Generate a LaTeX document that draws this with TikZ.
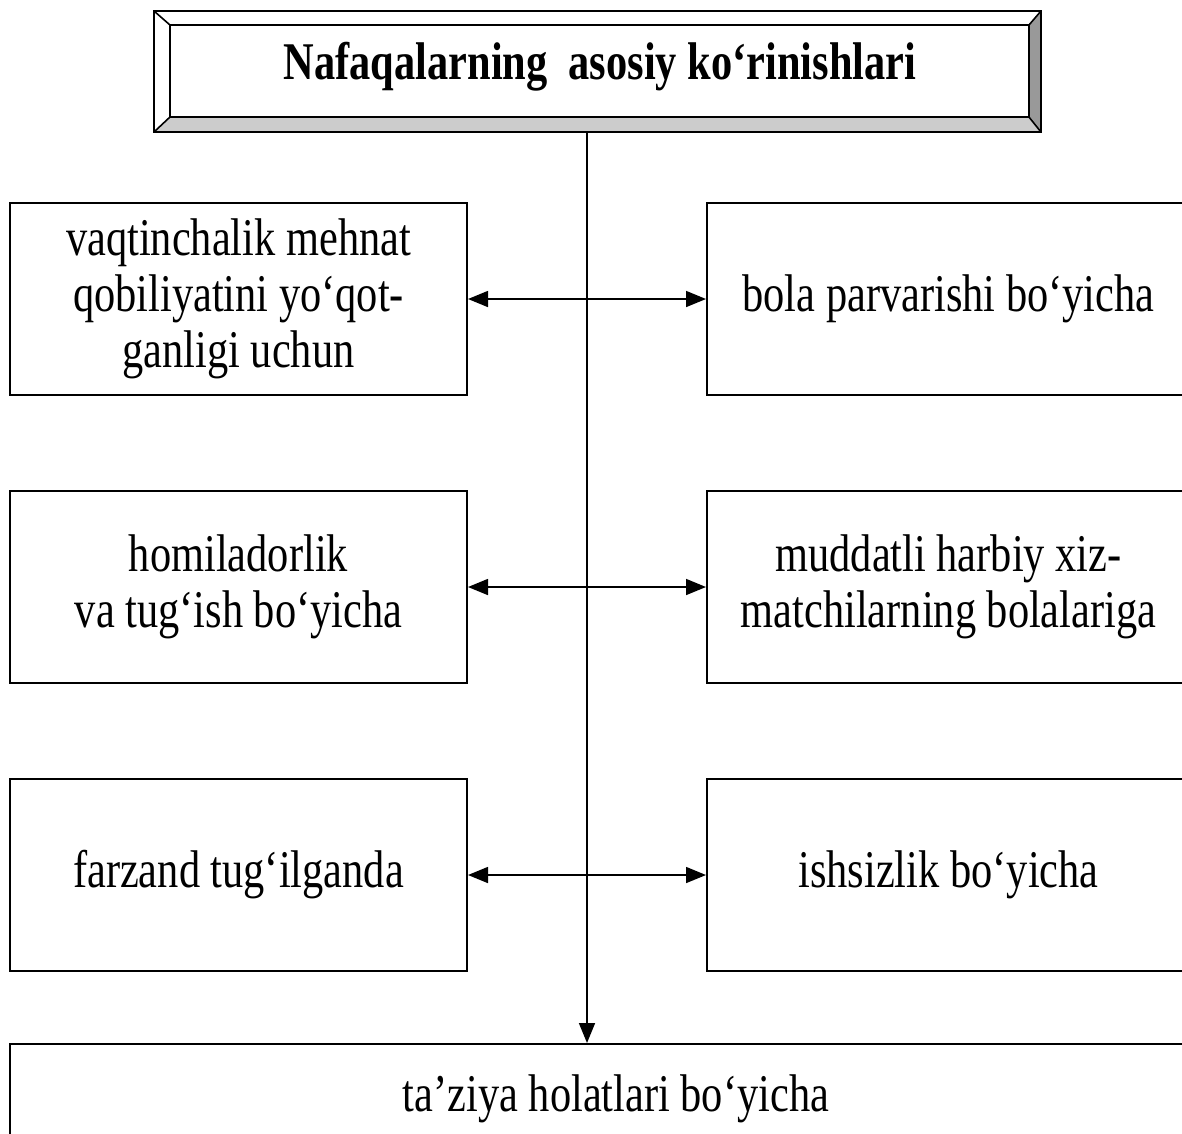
\documentclass[tikz,border=0pt]{standalone}
\usepackage{fontspec}
\setmainfont[FakeStretch=0.8]{Liberation Serif}
\usetikzlibrary{arrows.meta}
\definecolor{bevlight}{HTML}{CCCCCC}
\definecolor{bevdark}{HTML}{999999}
\tikzset{
  box/.style={draw=black, line width=2pt, fill=white, minimum width=457pt, minimum height=192pt,
    inner sep=0pt, align=center, font=\fontsize{53}{56}\selectfont},
  wbox/.style={box, minimum width=483pt},
  conn/.style={line width=1.6pt, arrows={Triangle[length=20pt,width=16pt]-Triangle[length=20pt,width=16pt]}},
  down/.style={line width=1.6pt, -{Triangle[length=20pt,width=16pt]}},
  bev/.style={draw=black, line width=1.6pt, line join=miter}
}
\begin{document}
\begin{tikzpicture}[x=1pt,y=-1pt]
\useasboundingbox (0,0) rectangle (1182,1133);
\clip (0,0) rectangle (1182,1133);
% title
\node[draw=black, line width=1.6pt, minimum width=885pt, minimum height=119pt, inner sep=0pt] (title) at (597.5,71.5) {};
\fill[white] (title.north west) -- (title.north east) -- ([xshift=-12pt,yshift=-14pt]title.north east) -- ([xshift=16pt,yshift=-14pt]title.north west) -- cycle;
\fill[white] (title.north west) -- ([xshift=16pt,yshift=-14pt]title.north west) -- ([xshift=16pt,yshift=15pt]title.south west) -- (title.south west) -- cycle;
\fill[bevlight] (title.south west) -- ([xshift=16pt,yshift=15pt]title.south west) -- ([xshift=-12pt,yshift=15pt]title.south east) -- (title.south east) -- cycle;
\fill[bevdark] (title.north east) -- ([xshift=-12pt,yshift=-14pt]title.north east) -- ([xshift=-12pt,yshift=15pt]title.south east) -- (title.south east) -- cycle;
\draw[bev] ([xshift=16pt,yshift=-14pt]title.north west) rectangle ([xshift=-12pt,yshift=15pt]title.south east);
\draw[bev] (title.north west) -- ([xshift=16pt,yshift=-14pt]title.north west);
\draw[bev] (title.north east) -- ([xshift=-12pt,yshift=-14pt]title.north east);
\draw[bev] (title.south west) -- ([xshift=16pt,yshift=15pt]title.south west);
\draw[bev] (title.south east) -- ([xshift=-12pt,yshift=15pt]title.south east);
\draw[draw=black, line width=1.6pt] (title.north west) rectangle (title.south east);
\node[font=\fontsize{53}{56}\selectfont\bfseries] (titletext) at (600,67) {Nafaqalarning\ \ asosiy ko‘rinishlari};
% boxes
\node[box] (l1) at (238.5,299) {vaqtinchalik mehnat\\qobiliyatini yo‘qot-\\ganligi uchun};
\node[box] (l2) at (238.5,587) {homiladorlik\\va tug‘ish bo‘yicha};
\node[box] (l3) at (238.5,875) {farzand tug‘ilganda};
\node[wbox] (r1) at (948.5,299) {bola parvarishi bo‘yicha};
\node[wbox] (r2) at (948.5,587) {muddatli harbiy xiz-\\matchilarning bolalariga};
\node[wbox] (r3) at (948.5,875) {ishsizlik bo‘yicha};
\node[box, minimum width=1212pt, minimum height=110pt] (bot) at (616,1099) {ta’ziya holatlari bo‘yicha};
% connectors
\coordinate (top) at (587,131);
\draw[down] (top) -- (top |- bot.north);
\draw[conn] (l1.east) -- (r1.west);
\draw[conn] (l2.east) -- (r2.west);
\draw[conn] (l3.east) -- (r3.west);
\end{tikzpicture}
\end{document}
